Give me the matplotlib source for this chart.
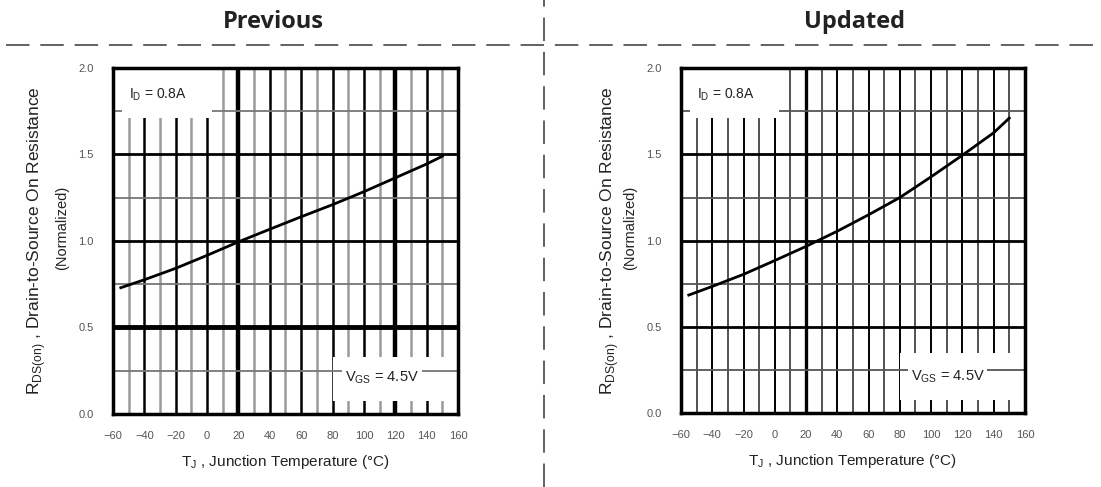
import numpy as np
import matplotlib
matplotlib.use("Agg")
import matplotlib.pyplot as plt
from matplotlib.patches import Rectangle
from matplotlib.lines import Line2D

# data
temp_prev = [-55, -40, -20, 0, 20, 40, 60, 80, 100, 120, 140, 150]
rds_prev = [0.73, 0.776, 0.842, 0.917, 0.995, 1.068, 1.14, 1.21, 1.285, 1.365, 1.445, 1.49]
temp_upd = [-55, -40, -20, 0, 20, 40, 60, 80, 100, 120, 140, 150]
rds_upd = [0.685, 0.735, 0.805, 0.885, 0.967, 1.055, 1.15, 1.25, 1.37, 1.495, 1.625, 1.71]

x_ticks = list(range(-60, 161, 20))
x_minor = list(range(-50, 151, 20))
y_ticks = [0.0, 0.5, 1.0, 1.5, 2.0]
y_minor = [0.25, 0.75, 1.25, 1.75]
panel_titles = ["Previous", "Updated"]
id_text = r"I$_\mathregular{D}$ = 0.8A"
vgs_text = r"V$_\mathregular{GS}$ = 4.5V"
xlab = r"T$_\mathregular{J}$ , Junction Temperature (°C)"
ylab1 = r"R$_\mathregular{DS(on)}$ , Drain-to-Source On Resistance"
ylab2 = "(Normalized)"

plt.rcParams['font.family'] = ['Liberation Sans', 'DejaVu Sans']

fig = plt.figure(figsize=(11.01, 4.87), dpi=100)

def draw_panel(ax, temp, rds, style):
    ax.set_xlim(-60, 160)
    ax.set_ylim(0, 2.0)
    # vertical grid
    for x in x_ticks[1:-1]:
        lw = style['v_major']
        if x in style['v_heavy']:
            lw = style['v_heavy_lw']
        ax.axvline(x, color='black', lw=lw, zorder=1)
    for x in x_minor:
        ax.axvline(x, color=style['v_minor_c'], lw=style['v_minor_lw'], zorder=1)
    # horizontal grid
    for y in [0.5, 1.0, 1.5]:
        lw = style['h_half_lw'] if y == 0.5 else 2.0
        ax.axhline(y, color='black', lw=lw, zorder=1)
    for y in [0.75, 1.25, 1.75]:
        ax.axhline(y, color=style['h_minor_c'], lw=style['h_minor_lw'], zorder=1)

    # label boxes
    ax.add_patch(Rectangle((-54, 1.71), 57, 0.29, facecolor='white', edgecolor='none', zorder=2))
    ax.add_patch(Rectangle((style['vgs_box_x'], 0.075), 160 - style['vgs_box_x'], style['vgs_box_top'] - 0.075,
                           facecolor='white', edgecolor='none', zorder=2))
    ax.axhline(0.25, color=style['h_minor_c'], lw=style['h_minor_lw'], zorder=3)

    ax.text(-50, 1.845, id_text, fontsize=10, va='center', ha='left', zorder=5, color='#222')
    ax.text(style['vgs_x'], 0.21, vgs_text, fontsize=10.5, va='center', ha='left', zorder=5, color='#222',
            bbox=dict(facecolor='white', edgecolor='none', pad=2))

    ax.plot(temp, rds, color='black', lw=2, zorder=6)

    for s in ax.spines.values():
        s.set_linewidth(2.5)
        s.set_zorder(7)
    ax.set_xticks(x_ticks)
    ax.set_yticks(y_ticks)
    ax.set_yticklabels([f"{v:.1f}" for v in y_ticks])
    ax.tick_params(length=0, labelsize=8, labelcolor='#555')
    ax.tick_params(axis='y', pad=14)
    ax.tick_params(axis='x', pad=12)
    ax.set_xlabel(xlab, fontsize=11, color='#222', labelpad=9)


style_prev = dict(v_major=1.8, v_heavy=[20, 120], v_heavy_lw=3.2, v_minor_c='#9a9a9a', v_minor_lw=1.8,
                  h_half_lw=3.5, h_minor_c='#777777', h_minor_lw=1.3,
                  vgs_box_x=80, vgs_box_top=0.33, vgs_x=88)
style_upd = dict(v_major=1.4, v_heavy=[20], v_heavy_lw=2.4, v_minor_c='#444444', v_minor_lw=1.3,
                 h_half_lw=2.0, h_minor_c='#555555', h_minor_lw=1.3,
                 vgs_box_x=80, vgs_box_top=0.35, vgs_x=87)

ax1 = fig.add_axes([0.1026, 0.1499, 0.3134, 0.7105])
draw_panel(ax1, temp_prev, rds_prev, style_prev)
ax2 = fig.add_axes([0.6185, 0.1513, 0.3124, 0.709])
draw_panel(ax2, temp_upd, rds_upd, style_upd)

# y labels (two lines each)
fig.text(37 / 1101, 1 - 241 / 487, ylab1, rotation=90, ha='center', va='center', fontsize=12.5, color='#222')
fig.text(62 / 1101, 1 - 228 / 487, ylab2, rotation=90, ha='center', va='center', fontsize=10.5, color='#222')
fig.text(610 / 1101, 1 - 241 / 487, ylab1, rotation=90, ha='center', va='center', fontsize=12.5, color='#222')
fig.text(630 / 1101, 1 - 228 / 487, ylab2, rotation=90, ha='center', va='center', fontsize=10.5, color='#222')

# titles and dashed separators
fig.text(273 / 1101, 1 - 22 / 487, panel_titles[0], ha='center', va='center', fontsize=17,
         fontweight='bold', family='Open Sans', color='#222')
fig.text(855 / 1101, 1 - 22 / 487, panel_titles[1], ha='center', va='center', fontsize=17,
         fontweight='bold', family='Open Sans', color='#222')
fig.add_artist(Line2D([0.005, 1.0], [1 - 45 / 487] * 2, transform=fig.transFigure,
                      color='#555', lw=1.3, dashes=(13, 6)))
fig.add_artist(Line2D([544 / 1101] * 2, [0.0, 1.0], transform=fig.transFigure,
                      color='#555', lw=1.3, dashes=(13, 6)))

fig.savefig("out.png", dpi=100)
